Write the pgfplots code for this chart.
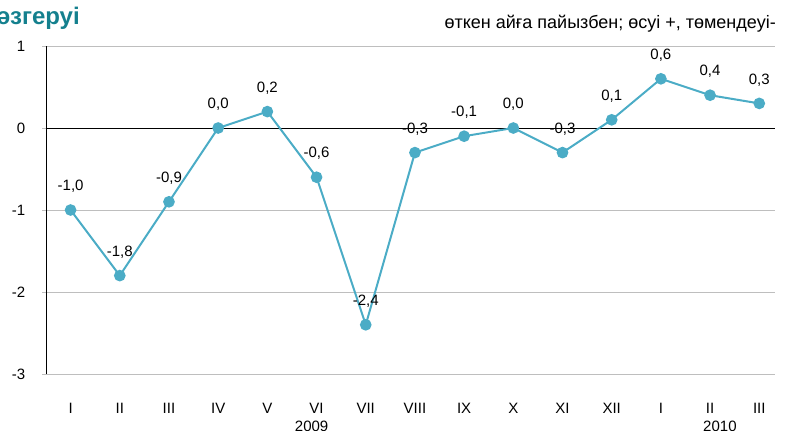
\documentclass[border=0pt]{standalone}
\usepackage{pgfplots}
\pgfplotsset{compat=1.18}
\usepackage{pgfplotstable}
\usepackage{fontspec}
\setmainfont{Liberation Sans}
\definecolor{linec}{RGB}{75,172,198}
\definecolor{titlec}{RGB}{20,128,142}
\definecolor{gridc}{RGB}{190,190,190}
\pgfplotstableread{
x y lab
0 -1.0 {-1,0}
1 -1.8 {-1,8}
2 -0.9 {-0,9}
3 0.0 {0,0}
4 0.2 {0,2}
5 -0.6 {-0,6}
6 -2.4 {-2,4}
7 -0.3 {-0,3}
8 -0.1 {-0,1}
9 0.0 {0,0}
10 -0.3 {-0,3}
11 0.1 {0,1}
12 0.6 {0,6}
13 0.4 {0,4}
14 0.3 {0,3}
}\datatable
\begin{document}
\begin{tikzpicture}[font=\fontsize{11.25}{13}\selectfont]
\useasboundingbox (0,0) rectangle (590.25pt,322.5pt);
\node[anchor=base east, font=\fontsize{18}{20}\selectfont\bfseries, text=titlec, inner sep=0pt] at (60pt,304pt) {әзгеруі};
\node[anchor=base east, font=\fontsize{13.5}{15}\selectfont, inner sep=0pt] at (582pt,301.5pt) {өткен айға пайызбен; өсуі +, төмендеуі-};
\begin{axis}[
  at={(34.5pt,42pt)}, anchor=south west,
  scale only axis, width=546.75pt, height=246pt,
  xmin=-0.5, xmax=14.32, ymin=-3, ymax=1,
  axis x line*=bottom, axis y line*=left,
  x axis line style={draw=none},
  y axis line style={black, line width=0.75pt, -},
  xtick={0,...,14},
  xticklabels={I,II,III,IV,V,VI,VII,VIII,IX,X,XI,XII,I,II,III},
  xtick style={draw=none},
  xticklabel style={yshift=-15pt},
  ytick={-3,-2,-1,1}, yticklabels={-3,-2,-1,1},
  extra y ticks={0}, extra y tick labels={0},
  extra y tick style={grid style={black, line width=0.75pt}},
  tick align=outside, major tick length=3pt,
  ytick style={gridc, line width=0.75pt},
  yticklabel style={xshift=-9pt},
  ymajorgrids, grid style={gridc, line width=0.75pt},
  clip=false,
  nodes near coords={\pgfplotspointmeta},
  point meta=explicit symbolic,
  every node near coord/.append style={anchor=base, inner sep=0pt, yshift=14.5pt, text=black},
]
\addplot[color=linec, line width=1.5pt, mark=*, mark size=3.6pt, mark options={fill=linec, draw=linec}]
  table[x=x, y=y, meta=lab] {\datatable};
\node[anchor=north] at (axis cs:4.9,-3) [yshift=-32pt] {2009};
\node[anchor=north] at (axis cs:13.2,-3) [yshift=-32pt] {2010};
\end{axis}
\end{tikzpicture}
\end{document}
